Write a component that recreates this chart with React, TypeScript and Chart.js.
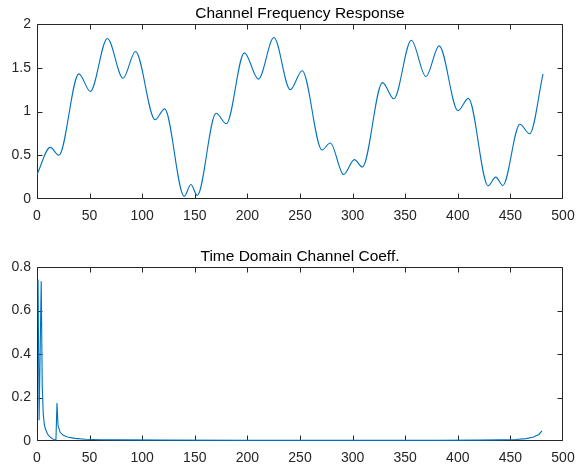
import React, { useEffect, useRef } from "react";
import { Chart, registerables } from "chart.js";

Chart.register(...registerables);

// |H(k)| — magnitude of the channel frequency response (turning points of the curve)
const freqX = [0, 12.6, 20.8, 39.8, 50.7, 66.9, 81.8, 93.6, 112.3, 121.3, 139.9, 146.3, 152.3, 170.2, 180, 197.1, 210.5, 225.2, 240.7, 252.1, 270.9, 278.8, 291.5, 301.7, 309.3, 328.4, 339.2, 355.8, 369.7, 382.3, 400.2, 410.1, 428.8, 436.1, 442.8, 459, 468.3, 481];
const freqY = [0.28, 0.59, 0.5, 1.43, 1.23, 1.835, 1.38, 1.685, 0.905, 1.03, 0.03, 0.165, 0.04, 0.98, 0.86, 1.67, 1.37, 1.845, 1.25, 1.465, 0.56, 0.64, 0.28, 0.45, 0.365, 1.33, 1.145, 1.815, 1.4, 1.75, 1.01, 1.15, 0.15, 0.25, 0.155, 0.855, 0.745, 1.43];

// |h(n)| — time domain channel coefficients, indexed from 1
const coefX = [1, 2, 4, 5, 6, 7, 8, 10, 12, 14, 16, 18, 19, 20, 22, 25, 29, 36, 46, 60, 80, 120, 200, 300, 380, 420, 440, 455, 465, 472, 477, 480];
const coefY = [0.743, 0.095, 0.735, 0.25, 0.12, 0.075, 0.055, 0.032, 0.02, 0.012, 0.007, 0.004, 0.175, 0.07, 0.04, 0.026, 0.018, 0.012, 0.008, 0.006, 0.005, 0.004, 0.003, 0.003, 0.003, 0.004, 0.005, 0.007, 0.011, 0.018, 0.03, 0.047];

const xMax = 500;
const xStep = 50;
const topTitle = "Channel Frequency Response";
const bottomTitle = "Time Domain Channel Coeff.";
const topYMax = 2;
const topYStep = 0.5;
const bottomYMax = 0.8;
const bottomYStep = 0.2;

const AXIS = "#262626";
const LINE = "#0072BD";
const FONT = "'Liberation Sans', Arial, sans-serif";

const fmt = (v: number | string) => String(+Number(v).toFixed(2));

// Axes box with inward tick marks on all four sides, drawn beneath the data line
const boxPlugin = {
  id: "boxTicks",
  beforeDatasetsDraw(chart: any) {
    const { ctx, chartArea: a, scales } = chart;
    const L = Math.round(a.left) + 0.5;
    const R = Math.round(a.right) - 0.5;
    const T = Math.round(a.top) + 0.5;
    const B = Math.round(a.bottom) - 0.5;
    const len = 5;
    const clampX = (p: number) => Math.min(Math.max(p, L), R);
    const clampY = (p: number) => Math.min(Math.max(p, T), B);
    ctx.save();
    ctx.strokeStyle = AXIS;
    ctx.lineWidth = 1;
    ctx.beginPath();
    ctx.rect(L, T, R - L, B - T);
    for (const t of scales.x.ticks) {
      const p = clampX(Math.round(scales.x.getPixelForValue(t.value)) + 0.5);
      ctx.moveTo(p, B);
      ctx.lineTo(p, B - len);
      ctx.moveTo(p, T);
      ctx.lineTo(p, T + len);
    }
    for (const t of scales.y.ticks) {
      const p = clampY(Math.round(scales.y.getPixelForValue(t.value)) + 0.5);
      ctx.moveTo(L, p);
      ctx.lineTo(L + len, p);
      ctx.moveTo(R, p);
      ctx.lineTo(R - len, p);
    }
    ctx.stroke();
    const title = chart.options.plugins.boxTicks?.text;
    if (title) {
      ctx.fillStyle = "#000";
      ctx.font = `15.5px ${FONT}`;
      ctx.textAlign = "center";
      ctx.textBaseline = "bottom";
      ctx.fillText(title, (a.left + a.right) / 2, a.top - 3);
    }
    ctx.restore();
  },
};

function makeConfig(
  xs: number[],
  ys: number[],
  yMax: number,
  yStep: number,
  title: string,
  padTop: number,
  xAxisHeight: number,
  smooth: boolean
): any {
  return {
    type: "line",
    data: {
      datasets: [
        {
          data: xs.map((x, i) => ({ x, y: ys[i] })),
          borderColor: LINE,
          borderWidth: 1.1,
          pointRadius: 0,
          fill: false,
          tension: 0,
          cubicInterpolationMode: smooth ? "monotone" : "default",
        },
      ],
    },
    options: {
      responsive: false,
      animation: false,
      devicePixelRatio: 1,
      layout: { padding: { top: padTop, right: 25, left: 0, bottom: 0 } },
      plugins: {
        legend: { display: false },
        tooltip: { enabled: false },
        boxTicks: { text: title },
      },
      scales: {
        x: {
          type: "linear",
          min: 0,
          max: xMax,
          grid: { display: false, drawTicks: false },
          border: { display: false },
          ticks: {
            stepSize: xStep,
            color: AXIS,
            padding: 9,
            maxRotation: 0,
            autoSkip: false,
            font: { family: FONT, size: 14 },
            callback: fmt,
          },
          afterFit: (s: any) => {
            s.height = xAxisHeight;
          },
        },
        y: {
          type: "linear",
          min: 0,
          max: yMax,
          grid: { display: false, drawTicks: false },
          border: { display: false },
          ticks: {
            stepSize: yStep,
            color: AXIS,
            padding: 6,
            font: { family: FONT, size: 14 },
            callback: fmt,
          },
          afterFit: (s: any) => {
            s.width = 37;
          },
        },
      },
    },
    plugins: [boxPlugin],
  };
}

export default function App() {
  const topRef = useRef<HTMLCanvasElement>(null);
  const bottomRef = useRef<HTMLCanvasElement>(null);

  useEffect(() => {
    const top = new Chart(
      topRef.current as HTMLCanvasElement,
      makeConfig(freqX, freqY, topYMax, topYStep, topTitle, 24, 35, true)
    );
    const bottom = new Chart(
      bottomRef.current as HTMLCanvasElement,
      makeConfig(coefX, coefY, bottomYMax, bottomYStep, bottomTitle, 33, 27, false)
    );
    return () => {
      top.destroy();
      bottom.destroy();
    };
  }, []);

  return (
    <div style={{ position: "absolute", left: 0, top: 0, width: 588, height: 468, background: "#fff" }}>
      <canvas ref={topRef} width={588} height={234} style={{ position: "absolute", left: 0, top: 0 }} />
      <canvas ref={bottomRef} width={588} height={234} style={{ position: "absolute", left: 0, top: 234 }} />
    </div>
  );
}
